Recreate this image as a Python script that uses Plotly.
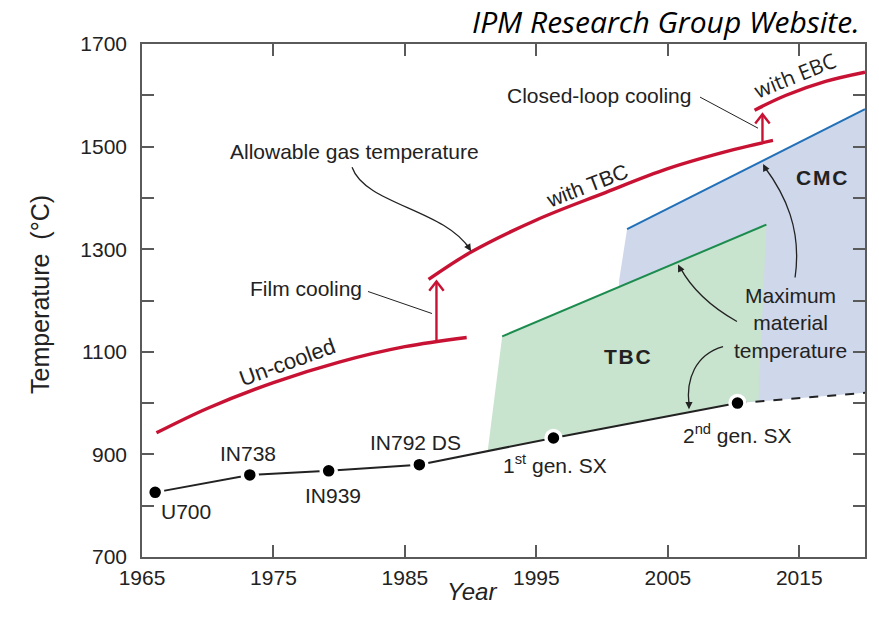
import plotly.graph_objects as go

# ---- Turbine blade alloys: year of introduction vs. maximum material temperature (°C)
alloy_labels = ["U700", "IN738", "IN939", "IN792 DS", "1<sup>st</sup> gen. SX", "2<sup>nd</sup> gen. SX"]
alloy_years = [1966, 1973.2, 1979.2, 1986.1, 1996.3, 2010.3]
alloy_temps = [826, 860, 868, 880, 932, 1000]

# projected trend of metallic alloys (dashed)
trend_years = [2010.3, 2020]
trend_temps = [1000, 1020]

# ---- Allowable gas temperature (red curves)
uncooled_years = [1966.1, 1970, 1975, 1980, 1985, 1989.7]
uncooled_temps = [942, 990, 1040, 1080, 1110, 1128]

tbc_gas_years = [1986.8, 1990, 1995, 2000, 2005, 2010, 2013]
tbc_gas_temps = [1241, 1294, 1357, 1408, 1457, 1494, 1512]

ebc_gas_years = [2011.6, 2014, 2017, 2020]
ebc_gas_temps = [1571, 1600, 1627, 1645]

# cooling steps: (year, from °C, to °C)
film_cooling_step = (1987.4, 1122, 1237)
closed_loop_step = (2012.2, 1510, 1563)

# ---- Maximum material temperature with coatings
tbc_line_years = [1992.4, 2012.5]
tbc_line_temps = [1130, 1348]
tbc_region_years = [1991.3, 1992.4, 2012.5, 2011.9, 2010.3, 1996.3, 1991.3]
tbc_region_temps = [907, 1130, 1348, 1004, 1000, 932, 907]

cmc_line_years = [2001.9, 2020]
cmc_line_temps = [1339, 1573]
cmc_region_years = [2001.9, 2020, 2020, 2010.3, 2000.9, 2001.3]
cmc_region_temps = [1339, 1573, 1020, 1000, 955, 1240]

# axis ticks
x_ticks = [1965, 1975, 1985, 1995, 2005, 2015]
y_ticks = [700, 900, 1100, 1300, 1500, 1700]

RED = "rgb(200,18,52)"
GREEN = "rgb(28,140,78)"
BLUE = "rgb(33,112,184)"
GREEN_FILL = "rgb(200,227,206)"
BLUE_FILL = "rgb(207,215,234)"
AXIS = "#5a5a5a"
INK = "#222222"
FONT = "Liberation Sans, Arial, Helvetica, sans-serif"
TEXT_SIZE = 21

fig = go.Figure()

# coating regions
fig.add_trace(go.Scatter(x=cmc_region_years, y=cmc_region_temps, fill="toself",
                         fillcolor=BLUE_FILL, line=dict(width=0), mode="lines",
                         hoverinfo="skip"))
fig.add_trace(go.Scatter(x=tbc_region_years, y=tbc_region_temps, fill="toself",
                         fillcolor=GREEN_FILL, line=dict(width=0), mode="lines",
                         hoverinfo="skip"))
fig.add_trace(go.Scatter(x=cmc_line_years, y=cmc_line_temps, mode="lines",
                         line=dict(color=BLUE, width=2)))
fig.add_trace(go.Scatter(x=tbc_line_years, y=tbc_line_temps, mode="lines",
                         line=dict(color=GREEN, width=2)))

# allowable gas temperature curves
for xs, ys in [(uncooled_years, uncooled_temps), (tbc_gas_years, tbc_gas_temps),
               (ebc_gas_years, ebc_gas_temps)]:
    fig.add_trace(go.Scatter(x=xs, y=ys, mode="lines",
                             line=dict(color=RED, width=3.4, shape="spline")))

# cooling step arrows (open chevron heads)
for yr, t0, t1 in [film_cooling_step, closed_loop_step]:
    fig.add_trace(go.Scatter(x=[yr, yr], y=[t0, t1], mode="lines",
                             line=dict(color=RED, width=2.4)))
    fig.add_trace(go.Scatter(x=[yr - 0.55, yr, yr + 0.55], y=[t1 - 18, t1, t1 - 18],
                             mode="lines", line=dict(color=RED, width=2.4)))

# alloy trend
fig.add_trace(go.Scatter(x=trend_years, y=trend_temps, mode="lines",
                         line=dict(color=INK, width=2, dash="dash")))
fig.add_trace(go.Scatter(x=alloy_years, y=alloy_temps, mode="lines",
                         line=dict(color=INK, width=2)))
fig.add_trace(go.Scatter(x=alloy_years, y=alloy_temps, mode="markers",
                         marker=dict(color="black", size=15,
                                     line=dict(color="white", width=3.5))))

annotations = []

def label(x, y, text, size=TEXT_SIZE, angle=0, xanchor="center", family=FONT):
    annotations.append(dict(x=x, y=y, xref="x", yref="y", text=text, showarrow=False,
                            textangle=angle, xanchor=xanchor, yanchor="middle",
                            font=dict(family=family, size=size, color=INK)))

# alloy names
label_pos = [(1966.3, 788, "left"), (1973.1, 901, "center"), (1979.5, 819, "center"),
             (1985.8, 923, "center"), (1996.4, 882, "center"), (2010.3, 940, "center")]
for (lx, ly, anc), name in zip(label_pos, alloy_labels):
    label(lx, ly, name, xanchor=anc)

label(1981.2, 1491, "Allowable gas temperature")
label(1981.9, 1223, "Film cooling", xanchor="right")
label(2006.9, 1600, "Closed-loop cooling", xanchor="right")
label(1976.0, 1080, "Un-cooled", angle=-20, size=22)
label(1998.85, 1424, "with TBC", angle=-21)
label(2014.7, 1639, "with EBC", angle=-22, size=21, family="Open Sans, sans-serif")
label(2001.9, 1091, "<b>T\u200aB\u200aC</b>")
label(2016.7, 1440, "<b>C\u200aM\u200aC</b>")
label(2014.3, 1157, "Maximum<br>material<br>temperature")

# arrowheads at the ends of the curved pointers
for tip_x, tip_y, ax, ay in [(1990.03, 1296, -5, -8), (2012.25, 1466, 4, 8),
                             (2005.78, 1270, 4, 8), (2006.61, 988, 0, -9)]:
    annotations.append(dict(x=tip_x, y=tip_y, xref="x", yref="y", text="",
                            showarrow=True, ax=ax, ay=ay, arrowhead=2, arrowsize=1.1,
                            arrowwidth=1.3, arrowcolor=INK, standoff=0))

# title and axis titles
annotations.append(dict(x=0.996, y=1.043, xref="paper", yref="paper",
                        text="<i>IPM Research Group Website.</i>", showarrow=False,
                        xanchor="right", yanchor="middle",
                        font=dict(family="Open Sans, sans-serif", size=30, color="black")))
annotations.append(dict(x=-0.141, y=0.511, xref="paper", yref="paper",
                        text="Temperature  (°C)", showarrow=False, textangle=-90,
                        xanchor="center", yanchor="middle",
                        font=dict(family=FONT, size=25, color=INK)))
annotations.append(dict(x=0.456, y=-0.068, xref="paper", yref="paper",
                        text="<i>Year</i>", showarrow=False,
                        xanchor="center", yanchor="middle",
                        font=dict(family=FONT, size=24, color=INK)))

# curved pointer lines and straight leaders
curve_style = dict(color=INK, width=1.3)
shapes = [
    dict(type="path", xref="x", yref="y", line=curve_style,
         path="M 1980.98,1459.8 C 1981.96,1387.5 1988.05,1377.7 1989.95,1299.6"),
    dict(type="path", xref="x", yref="y", line=curve_style,
         path="M 2014.68,1244.9 C 2015.21,1338.7 2013.92,1407.0 2012.32,1461.7"),
    dict(type="path", xref="x", yref="y", line=curve_style,
         path="M 2010.26,1159.0 C 2008.36,1186.3 2006.84,1221.5 2005.93,1264.5"),
    dict(type="path", xref="x", yref="y", line=curve_style,
         path="M 2009.20,1110.2 C 2007.07,1094.5 2006.38,1045.7 2006.61,996.9"),
    dict(type="line", xref="x", yref="y", x0=1982.19, y0=1217.6, x1=1987.06, y1=1174.6,
         line=dict(color=INK, width=1)),
    dict(type="line", xref="x", yref="y", x0=2007.45, y0=1596.5, x1=2011.86, y1=1535.9,
         line=dict(color=INK, width=1)),
]

fig.update_layout(
    width=879, height=631,
    margin=dict(l=142, r=14, t=44, b=74),
    paper_bgcolor="white", plot_bgcolor="white",
    showlegend=False,
    font=dict(family=FONT, size=TEXT_SIZE, color=INK),
    annotations=annotations,
    shapes=shapes,
    xaxis=dict(range=[1965, 2020], tickvals=x_ticks, ticks="inside", ticklen=12,
               tickwidth=1.5, tickcolor=AXIS, showline=True, linecolor=AXIS, linewidth=1.5,
               mirror="ticks", showgrid=False, zeroline=False, ticklabelstandoff=1,
               tickfont=dict(family=FONT, size=21, color=INK)),
    yaxis=dict(range=[700, 1700], tickvals=y_ticks, ticks="inside", ticklen=12,
               tickwidth=1.5, tickcolor=AXIS, showline=True, linecolor=AXIS, linewidth=1.5,
               mirror="ticks", showgrid=False, zeroline=False, ticklabelstandoff=9,
               minor=dict(dtick=100, ticks="inside", ticklen=12, tickcolor=AXIS, tickwidth=1.5),
               tickfont=dict(family=FONT, size=21, color=INK)),
)

fig.write_html("out.html")
